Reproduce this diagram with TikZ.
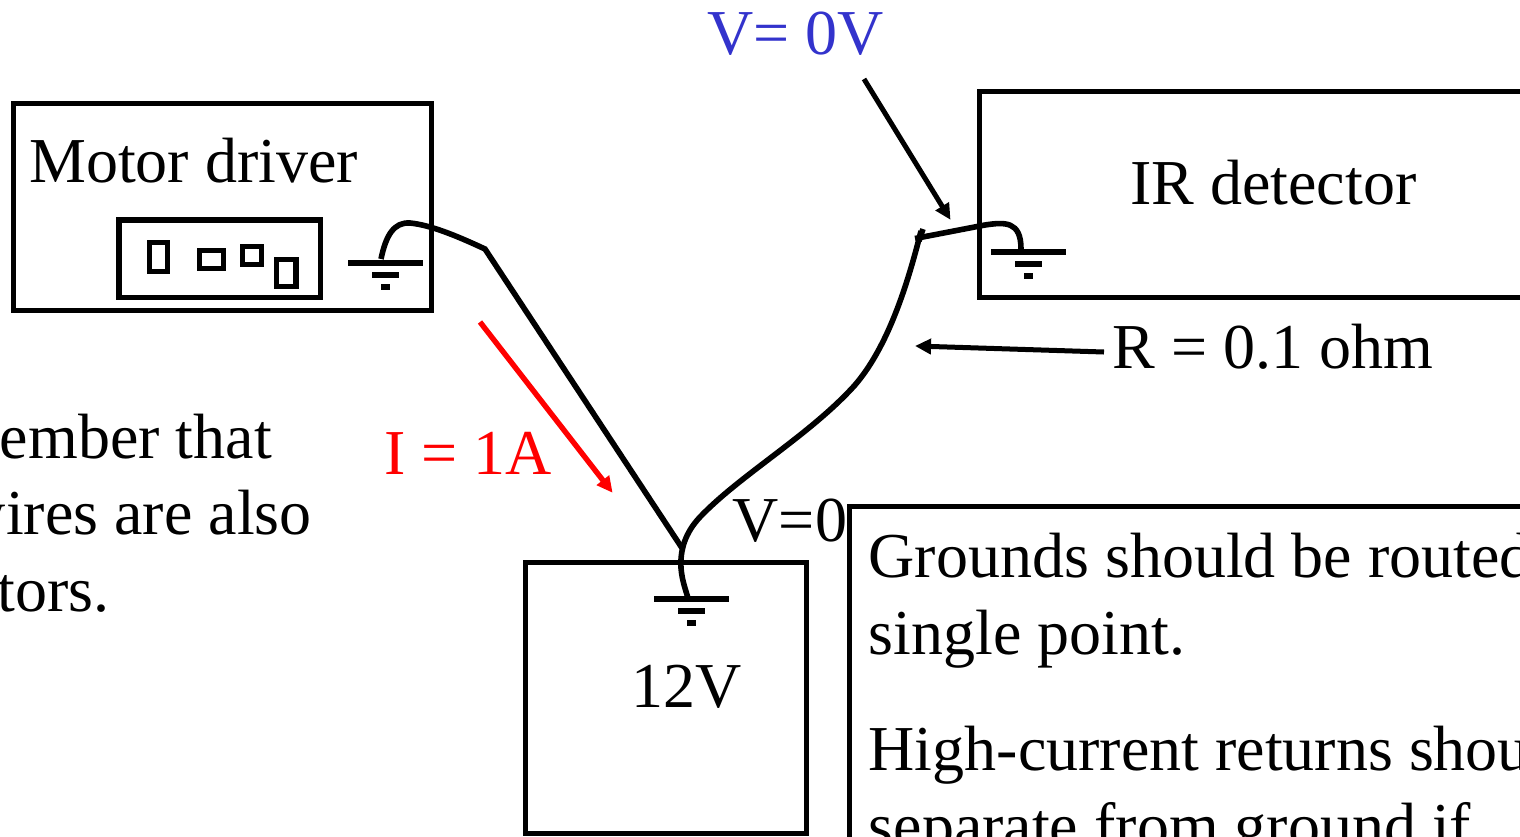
\documentclass[tikz,border=0pt]{standalone}
\usepackage{fontspec}
\setmainfont{Liberation Serif}
\usetikzlibrary{arrows.meta}
\definecolor{vblue}{RGB}{51,51,204}
\tikzset{
  x=1pt,y=-1pt,
  boxline/.style={draw=black,line width=5.4pt,fill=none},
  wire/.style={draw=black,line width=5.6pt,line cap=butt},
  gline/.style={draw=black,line width=5.2pt},
  pointer/.style={draw=black,line width=5pt,-{Triangle[length=16pt,width=15pt]},shorten >=-1pt},
  redpointer/.style={draw=red,line width=5.4pt,-{Triangle[length=16pt,width=15pt]},shorten >=-1pt},
  label/.style={inner sep=0pt,anchor=base west,font=\fontsize{64}{64}\selectfont,text=black},
  rlabel/.style={inner sep=0pt,anchor=base east,font=\fontsize{64}{64}\selectfont,text=black},
}
\begin{document}
\begin{tikzpicture}
\useasboundingbox (0,0) rectangle (1520,836);
\clip (0,0) rectangle (1520,836);
% boxes
\draw[boxline] (13.5,103.5) rectangle (431.5,310.5);
\draw[boxline] (119,220) rectangle (320.5,297.5);
\draw[boxline] (149.5,242.5) rectangle (167.5,271.5);
\draw[boxline] (199.5,250.5) rectangle (223.5,268.5);
\draw[boxline] (242.5,246.5) rectangle (261.5,264.5);
\draw[boxline] (276.5,259.5) rectangle (296,286.5);
\draw[boxline] (979.5,91.5) rectangle (1540,297.5);
\draw[boxline] (525.5,562.5) rectangle (806.5,833.5);
\draw[boxline] (849.5,506.5) rectangle (1540,860);
% grounds
\foreach \gx/\gy in {385.5/263,1028.5/252,691.5/599}{
  \draw[gline] (\gx-37.5,\gy) -- (\gx+37.5,\gy);
  \draw[gline] (\gx-13.5,\gy+12) -- (\gx+13.5,\gy+12);
  \draw[gline] (\gx-4.5,\gy+24) -- (\gx+4.5,\gy+24);
}
% coordinates
\coordinate (mgnd) at (381,259);
\coordinate (mbend) at (485,249);
\coordinate (junction) at (682,548);
\coordinate (pgnd) at (688,598);
\coordinate (igne) at (1021,249);
\coordinate (jt) at (915,238.5);
\coordinate (jc) at (921,231);
% wires
\draw[wire] (mgnd) .. controls (386,235) and (394,222) .. (410,223)
   .. controls (430,225) and (455,235) .. (mbend) -- (junction);
\draw[wire] (jt) -- (985,225) .. controls (1005,222) and (1021,221) .. (igne);
\draw[wire] (923,229) -- (919,241);
\draw[wire] (jc) .. controls (905,295) and (885,350) .. (855,385)
   .. controls (810,435) and (740,475) .. (700,517)
   .. controls (685,533) and (680,550) .. (681,568)
   .. controls (682,580) and (685,588) .. (pgnd);
% labels
\node[label] (motor) at (29,182) {Motor driver};
\node[label,text=vblue] (vzero) at (707,54) {V= 0V};
\node[label] (ir) at (1130,204) {IR detector};
\node[label] (rval) at (1112.5,368) {R = 0.1 ohm};
\node[label,text=red] (cur) at (384,474) {I = 1A};
\node[label] (vz) at (732.5,541) {V=0};
\node[label] (pwr) at (631,707) {12V};
\node[rlabel] (l1) at (272,458) {Remember that};
\node[rlabel] (l2) at (312,534) {wires are also};
\node[rlabel] (l3) at (110,611) {conductors.};
\node[label] (n1) at (868.5,577) {Grounds should be routed to a};
\node[label] (n2) at (868.5,654.5) {single point.};
\node[label] (n3) at (868.5,770) {High-current returns should be};
\node[label] (n4) at (868.5,847) {separate from ground if};
% pointers
\coordinate (pa) at (864,79);
\coordinate (pb) at (950,219);
\coordinate (ra) at (1104,352);
\coordinate (rb) at (916,346);
\coordinate (ia) at (480,322);
\coordinate (ib) at (612,492);
\draw[pointer] (pa) -- (pb);
\draw[pointer] (ra) -- (rb);
\draw[redpointer] (ia) -- (ib);
\end{tikzpicture}
\end{document}
